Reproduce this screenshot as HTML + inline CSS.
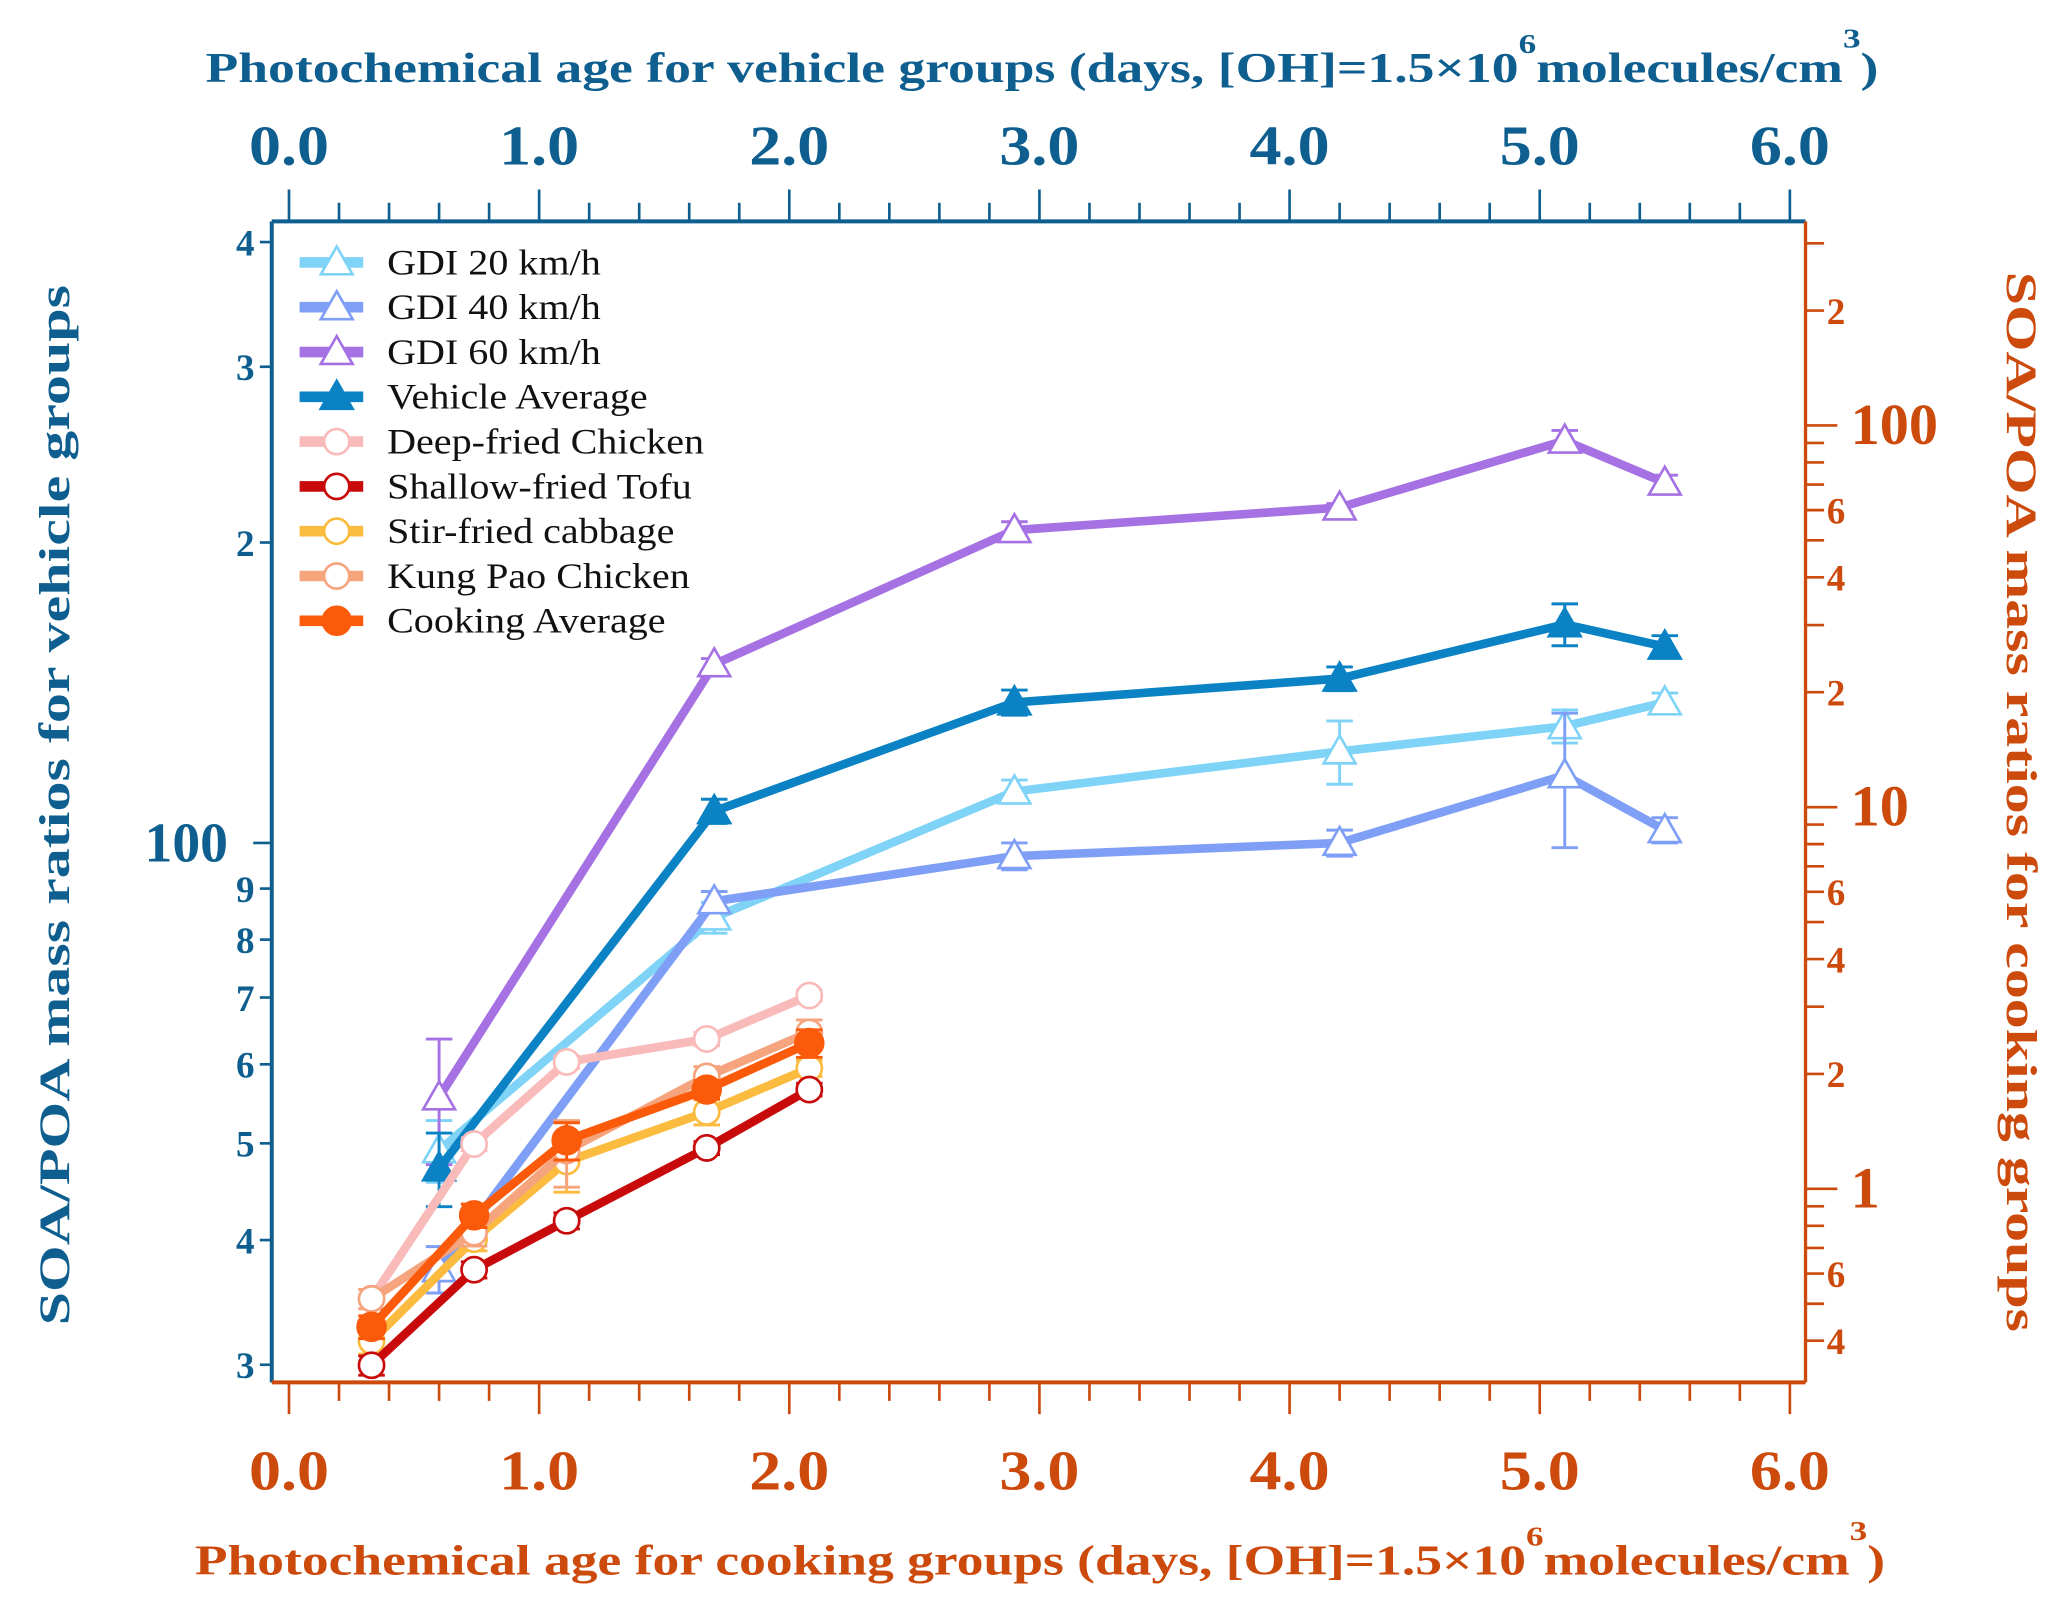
<!DOCTYPE html>
<html><head><meta charset="utf-8"><style>
html,body{margin:0;padding:0;background:#fff;}
svg{display:block;font-family:"Liberation Serif",serif;}
</style></head><body>
<svg id="chart" width="2068" height="1605" viewBox="0 0 1560 1211" preserveAspectRatio="none" xmlns="http://www.w3.org/2000/svg">
<g id="axes"></g>
<g id="series"></g>
<g id="legend"></g>
<text class="title" x="155" y="62" textLength="1262" lengthAdjust="spacingAndGlyphs" font-size="32" font-weight="bold" fill="#0e5f8f">Photochemical age for vehicle groups (days, [OH]=1.5×10<tspan dy="-22" font-size="21">6</tspan><tspan dy="22">molecules/cm</tspan><tspan dy="-26" font-size="21">3</tspan><tspan dy="26">)</tspan></text>
<text class="title" x="147" y="1188" textLength="1275" lengthAdjust="spacingAndGlyphs" font-size="32" font-weight="bold" fill="#cc4a0c">Photochemical age for cooking groups (days, [OH]=1.5×10<tspan dy="-22" font-size="21">6</tspan><tspan dy="22">molecules/cm</tspan><tspan dy="-26" font-size="21">3</tspan><tspan dy="26">)</tspan></text>
<text transform="translate(52,1000) rotate(-90)" x="0" y="0" textLength="785" lengthAdjust="spacingAndGlyphs" font-size="33" font-weight="bold" fill="#0e5f8f">SOA/POA mass ratios for vehicle groups</text>
<text transform="translate(1514,205) rotate(90)" x="0" y="0" textLength="800" lengthAdjust="spacingAndGlyphs" font-size="33" font-weight="bold" fill="#cc4a0c">SOA/POA mass ratios for cooking groups</text>
</svg>
<script>
// ---- data ----
const vehDays = [0.6, 1.7, 2.9, 4.2, 5.1, 5.5];
const gdi20 = [49.2, 84.2, 112.6, 123.5, 130.9, 138.3];
const gdi20Err = [3.5, 3, 3, 9, 5, 3];
const gdi40 = [37.4, 87.4, 97, 100, 116.9, 103];
const gdi40Err = [2, 2, 3, 3, 18, 3];
const gdi60 = [55.6, 151, 205.8, 216.8, 253, 229.6];
const gdi60Err = [8, 2, 4, 2, 6, 4];
const vehAvg = [47.2, 107.6, 138.3, 146.1, 165.6, 157.3];
const vehAvgErr = [4, 3, 4, 4, 8, 4];
const cookDays = [0.33, 0.74, 1.11, 1.67, 2.08];
const deepFried = [0.515, 1.31, 2.15, 2.47, 3.21];
const deepFriedErr = [0.03, 0.05, 0.08, 0.1, 0.1];
const tofu = [0.345, 0.614, 0.825, 1.28, 1.82];
const tofuErr = [0.02, 0.03, 0.04, 0.05, 0.07];
const cabbage = [0.399, 0.738, 1.18, 1.59, 2.07];
const cabbageErr = [0.03, 0.05, 0.2, 0.12, 0.1];
const kungPao = [0.515, 0.768, 1.26, 1.97, 2.57];
const kungPaoErr = [0.03, 0.06, 0.25, 0.12, 0.2];
const cookAvg = [0.435, 0.852, 1.34, 1.82, 2.41];
const cookAvgErr = [0.03, 0.06, 0.15, 0.1, 0.2];
const xTickLabels = ["0.0","1.0","2.0","3.0","4.0","5.0","6.0"];
const leftTicks = [30,40,50,60,70,80,90,100,200,300,400];
const leftTickLabels = ["3","4","5","6","7","8","9","100","2","3","4"];
const rightLabeled = [0.4,0.6,1,2,4,6,10,20,40,60,100,200];
const rightLabels = ["4","6","1","2","4","6","10","2","4","6","100","2"];

// ---- scales ----
const NS="http://www.w3.org/2000/svg";
const BLUE="#0e5f8f", ORANGE="#cc4a0c";
const L=205,R=1362,T=167,B=1043;
const xS = d => 218 + d*188.7;
const yL = v => 636 - 753*Math.log10(v/100);
const yR = v => 897 - 288*Math.log10(v);
function el(tag, attrs, parent){const e=document.createElementNS(NS,tag);for(const k in attrs)e.setAttribute(k,attrs[k]);parent.appendChild(e);return e;}
function stretch(t,f){const w=t.getComputedTextLength();t.setAttribute('textLength',w*f);t.setAttribute('lengthAdjust','spacingAndGlyphs');}
const axes=document.getElementById('axes');

let a;
a=el('line',{x1:L,y1:T,x2:R,y2:T,stroke:BLUE,'stroke-width':3},axes);

a=el('line',{x1:L,y1:T,x2:L,y2:B,stroke:BLUE,'stroke-width':3},axes);

a=el('line',{x1:L,y1:B,x2:R,y2:B,stroke:ORANGE,'stroke-width':3},axes);

a=el('line',{x1:R,y1:T,x2:R,y2:B,stroke:ORANGE,'stroke-width':2.5},axes);


for(let i=0;i<=30;i++){
  const d=i*0.2, x=xS(d), major=i%5===0;
  a=el('line',{x1:x,y1:T,x2:x,y2:T-(major?24:14),stroke:BLUE,'stroke-width':2},axes);
  
  a=el('line',{x1:x,y1:B,x2:x,y2:B+(major?24:14),stroke:ORANGE,'stroke-width':2},axes);
  
}
xTickLabels.forEach((t,i)=>{
  let e=el('text',{x:xS(i),y:124,'text-anchor':'middle','font-size':42,'font-weight':'bold',fill:BLUE},axes);e.textContent=t;
  
  stretch(e,1.15);
  e=el('text',{x:xS(i),y:1124,'text-anchor':'middle','font-size':42,'font-weight':'bold',fill:ORANGE},axes);e.textContent=t;
  
  stretch(e,1.15);
});
leftTicks.forEach((v,i)=>{
  const y=yL(v), big=v===100;
  a=el('line',{x1:L,y1:y,x2:L-(big?14:9),y2:y,stroke:BLUE,'stroke-width':2},axes);
  
  const e=el('text',{x:big?172:192,y:y+(big?14:10),'text-anchor':'end','font-size':big?42:28,'font-weight':'bold',fill:BLUE},axes);e.textContent=leftTickLabels[i];
  
});
for(let dec=-1;dec<=2;dec++){
  for(let m=1;m<=9;m++){
    const v=m*Math.pow(10,dec); const y=yR(v);
    if(y<T+8||y>B-5)continue;
    const major=m===1;
    a=el('line',{x1:R,y1:y,x2:R+(major?24:14),y2:y,stroke:ORANGE,'stroke-width':2},axes);
    
  }
}
rightLabeled.forEach((v,i)=>{
  const y=yR(v), big=(v===1||v===10||v===100);
  const e=el('text',{x:big?1396:1378,y:y+(big?14:10),'font-size':big?44:28,'font-weight':'bold',fill:ORANGE},axes);e.textContent=rightLabels[i];
  
});

// ---- series ----
const sg=document.getElementById('series');
function marker(g,shape,x,y,color,filled){
  let m;
  if(shape==='tri') m=el('path',{d:`M${x},${y-12} L${x+12},${y+9} L${x-12},${y+9} Z`,fill:filled?color:'#fff',stroke:color,'stroke-width':2},g);
  else m=el('circle',{cx:x,cy:y,r:filled?10.5:9.5,fill:filled?color:'#fff',stroke:color,'stroke-width':2},g);
  return m;
}
function drawSeries(name,xs,vals,errs,xf,yf,color,shape,filled){
  const g=el('g',{},sg);
  
  const pts=xs.map((d,i)=>xf(d)+','+yf(vals[i])).join(' ');
  const pl=el('polyline',{points:pts,fill:'none',stroke:color,'stroke-width':6.5,'stroke-linejoin':'round'},g);
  
  xs.forEach((d,i)=>{
    const x=xf(d), y1=yf(vals[i]+errs[i]), y2=yf(Math.max(vals[i]-errs[i],1e-3));
    const eb=el('path',{d:`M${x},${y1}V${y2}M${x-10},${y1}H${x+10}M${x-10},${y2}H${x+10}`,stroke:color,'stroke-width':2.2,fill:'none'},g);
    
    const m=marker(g,shape,x,yf(vals[i]),color,filled);
    
  });
}
drawSeries('gdi-20',vehDays,gdi20,gdi20Err,xS,yL,'#7fd3f7','tri',false);
drawSeries('gdi-40',vehDays,gdi40,gdi40Err,xS,yL,'#7f9ef5','tri',false);
drawSeries('gdi-60',vehDays,gdi60,gdi60Err,xS,yL,'#a571e3','tri',false);
drawSeries('vehicle-average',vehDays,vehAvg,vehAvgErr,xS,yL,'#0a82c4','tri',true);
drawSeries('deep-fried-chicken',cookDays,deepFried,deepFriedErr,xS,yR,'#f9baba','circ',false);
drawSeries('stir-fried-cabbage',cookDays,cabbage,cabbageErr,xS,yR,'#fbbb3f','circ',false);
drawSeries('kung-pao-chicken',cookDays,kungPao,kungPaoErr,xS,yR,'#f6a47e','circ',false);
drawSeries('shallow-fried-tofu',cookDays,tofu,tofuErr,xS,yR,'#c80a0a','circ',false);
drawSeries('cooking-average',cookDays,cookAvg,cookAvgErr,xS,yR,'#fa5a0a','circ',true);

// ---- legend ----
const lg=document.getElementById('legend');
const legNames=["GDI 20 km/h","GDI 40 km/h","GDI 60 km/h","Vehicle Average","Deep-fried Chicken","Shallow-fried Tofu","Stir-fried cabbage","Kung Pao Chicken","Cooking Average"];
const legColors=['#7fd3f7','#7f9ef5','#a571e3','#0a82c4','#f9baba','#c80a0a','#fbbb3f','#f6a47e','#fa5a0a'];
const legShapes=['tri','tri','tri','tri','circ','circ','circ','circ','circ'];
const legFilled=[false,false,false,true,false,false,false,false,true];
legNames.forEach((n,i)=>{
  const y=198+i*33.8;
  const g=el('g',{},lg);
  
  el('line',{x1:226,y1:y,x2:274,y2:y,stroke:legColors[i],'stroke-width':8},g);
  marker(g,legShapes[i],254,y,legColors[i],legFilled[i]);
  const t=el('text',{x:292,y:y+9,'font-size':27,fill:'#111'},g);t.textContent=n;
  stretch(t,1.12);
});
</script>
</body></html>
